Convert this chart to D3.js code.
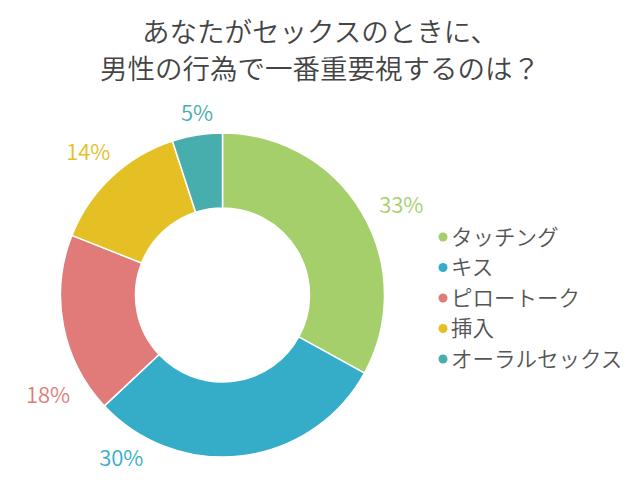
<!DOCTYPE html>
<html>
<head>
<meta charset="utf-8">
<script src="https://cdn.jsdelivr.net/npm/d3@7"></script>
<style>
  body { margin: 0; background: #fff; }
  text { font-family: "Noto Sans CJK JP", "Noto Sans", sans-serif; font-weight: 350; }
</style>
</head>
<body>
<div id="chart"></div>
<script>
// data
var titleLines = ["あなたがセックスのときに、", "男性の行為で一番重要視するのは？"];
var categories = ["タッチング", "キス", "ピロートーク", "挿入", "オーラルセックス"];
var values = [33, 30, 18, 14, 5];
var colors = ["#a5cf6a", "#35adc9", "#e07b7a", "#e4c024", "#48adad"];

var svgWidth = 640;
var svgHeight = 480;

var svg = d3.select("#chart")
  .append("svg")
  .attr("width", svgWidth)
  .attr("height", svgHeight);

// title
svg.append("g").selectAll("text")
  .data(titleLines)
  .enter()
  .append("text")
  .attr("x", 320)
  .attr("y", (d, i) => 42 + i * 37)
  .attr("text-anchor", "middle")
  .attr("font-size", "27.5px")
  .attr("fill", "#444")
  .text(d => d);

// donut
var cx = 222.5, cy = 295;
var outerR = 162, innerR = 87;

var pie = d3.pie().sort(null).value(d => d);
var arcs = pie(values);
var arc = d3.arc().innerRadius(innerR).outerRadius(outerR);

var chartGroup = svg.append("g")
  .attr("transform", `translate(${cx}, ${cy})`);

chartGroup.selectAll("path")
  .data(arcs)
  .enter()
  .append("path")
  .attr("d", arc)
  .attr("fill", (d, i) => colors[i])
  .attr("stroke", "#fff")
  .attr("stroke-width", 1.5);

// percentage labels, pushed around a little like the original
var labelNudge = [4, 39, -19, 0, 1]; // degrees
var labelR = [200, 192, 201, 196, 183];
chartGroup.selectAll(".pct")
  .data(arcs)
  .enter()
  .append("text")
  .attr("class", "pct")
  .attr("x", (d, i) => {
    var a = (d.startAngle + d.endAngle) / 2 + labelNudge[i] * Math.PI / 180;
    return Math.sin(a) * labelR[i];
  })
  .attr("y", (d, i) => {
    var a = (d.startAngle + d.endAngle) / 2 + labelNudge[i] * Math.PI / 180;
    return -Math.cos(a) * labelR[i];
  })
  .attr("dy", "0.35em")
  .attr("text-anchor", "middle")
  .attr("font-size", "22px")
  .attr("fill", (d, i) => colors[i])
  .text(d => d.data + "%");

// legend
var legend = svg.append("g")
  .attr("transform", "translate(443, 237)");

var items = legend.selectAll("g")
  .data(categories)
  .enter()
  .append("g")
  .attr("transform", (d, i) => `translate(0, ${i * 30.5})`);

items.append("circle")
  .attr("r", 4.5)
  .attr("fill", (d, i) => colors[i]);

items.append("text")
  .attr("x", 8)
  .attr("dy", "0.35em")
  .attr("font-size", "21.5px")
  .attr("fill", "#555")
  .text(d => d);
</script>
</body>
</html>
